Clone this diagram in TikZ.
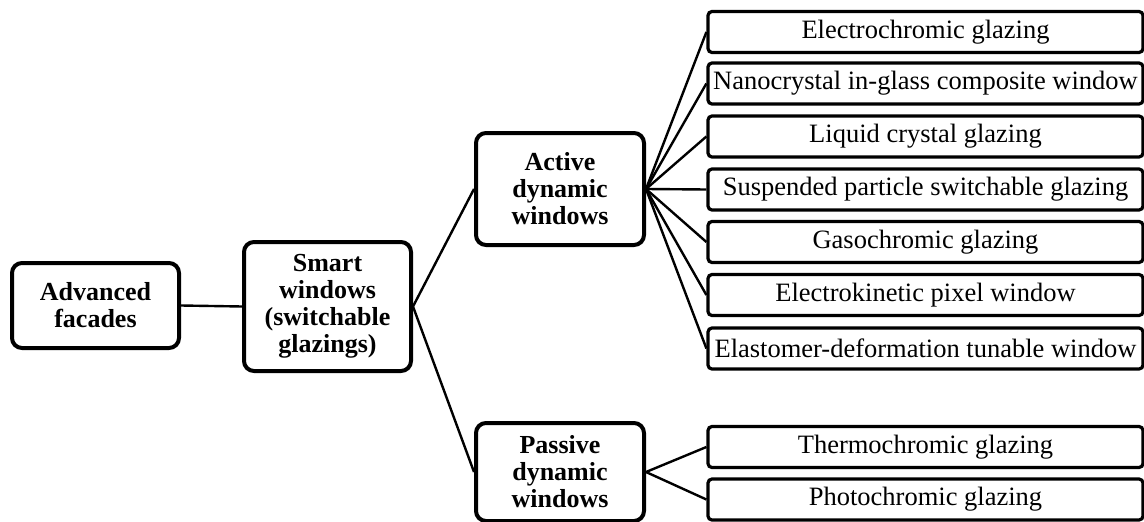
\documentclass[tikz,border=0pt]{standalone}
\usepackage{fontspec}
\setmainfont{Liberation Serif}
\begin{document}
\begin{tikzpicture}[x=1pt,y=-1pt,
  mainbox/.style={draw, line width=4pt, rounded corners=10pt, inner sep=0pt,
    align=center, font=\fontsize{26}{27}\selectfont\bfseries},
  leafbox/.style={draw, line width=3.2pt, rounded corners=4pt, inner sep=0pt,
    minimum width=435pt, minimum height=41pt, font=\fontsize{26.5}{28}\selectfont},
  link/.style={line width=2.4pt}]
\useasboundingbox (0,0) rectangle (1144,522);

% main categories
\node[mainbox, minimum width=167pt, minimum height=85pt] (adv) at (95.5,305.5) {Advanced\\facades};
\node[mainbox, minimum width=167pt, minimum height=129pt] (smart) at (327.5,306.5) {Smart\\windows\\(switchable\\glazings)};
\node[mainbox, minimum width=168pt, minimum height=112pt] (active) at (560,189) {Active\\dynamic\\windows};
\node[mainbox, minimum width=168pt, minimum height=98pt] (passive) at (560,472) {Passive\\dynamic\\windows};

% glazing technologies
\node[leafbox] (ec) at (925.5,32) {Electrochromic glazing};
\node[leafbox] (nc) at (925.5,83.5) {Nanocrystal in-glass composite window};
\node[leafbox] (lc) at (925.5,136.5) {Liquid crystal glazing};
\node[leafbox] (sp) at (925.5,189.5) {Suspended particle switchable glazing};
\node[leafbox] (gc) at (925.5,242) {Gasochromic glazing};
\node[leafbox] (ek) at (925.5,295) {Electrokinetic pixel window};
\node[leafbox] (el) at (925.5,348.5) {Elastomer-deformation tunable window};
\node[leafbox] (tc) at (925.5,447) {Thermochromic glazing};
\node[leafbox] (pc) at (925.5,499.5) {Photochromic glazing};

% connectors
\draw[link] (adv.east) -- (smart.west);
\draw[link] (smart.east) -- (active.west);
\draw[link] (smart.east) -- (passive.west);
\foreach \n in {ec,nc,lc,sp,gc,ek,el}
  \draw[link] (active.east) -- (\n.west);
\foreach \n in {tc,pc}
  \draw[link] (passive.east) -- (\n.west);
\end{tikzpicture}
\end{document}
